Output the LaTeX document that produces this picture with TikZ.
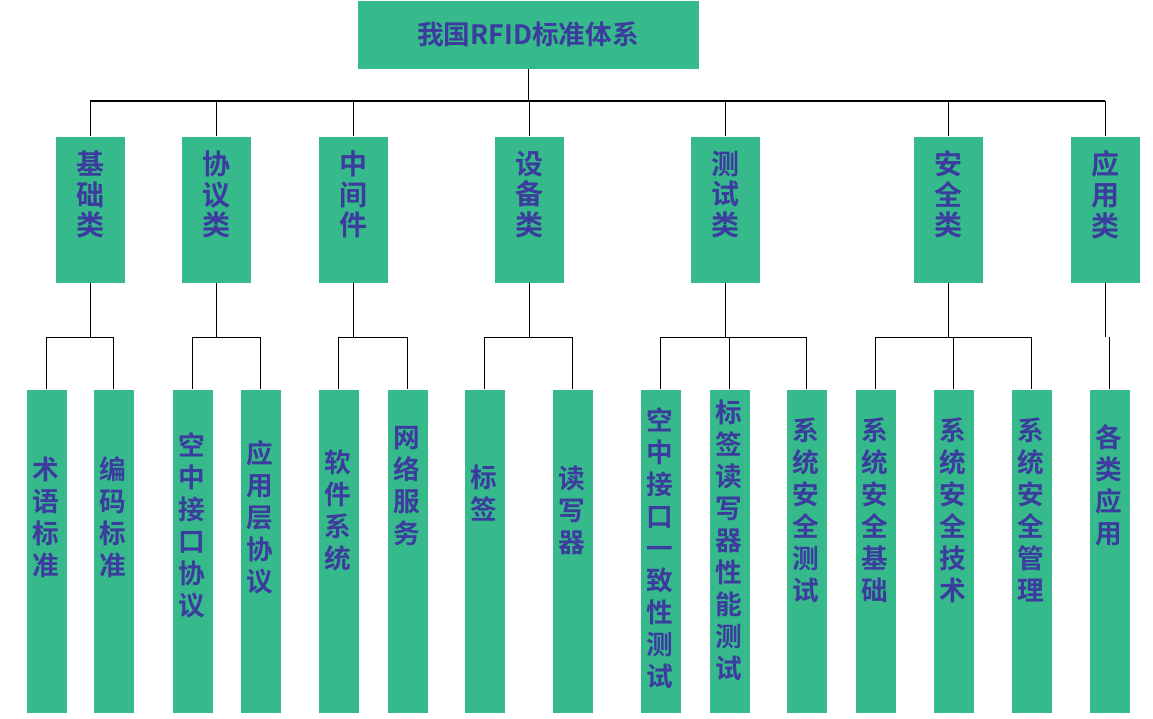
\documentclass[tikz,border=0pt]{standalone}
\usepackage{fontspec}
\setmainfont{Noto Sans CJK SC Bold}
\usetikzlibrary{calc}
\definecolor{boxgreen}{HTML}{36BA8C}
\definecolor{txtblue}{HTML}{3C3C9E}
\tikzset{every picture/.style={line width=0.9pt},
  grbox/.style={draw=none,fill=boxgreen,inner sep=0pt,anchor=north west},
  vtext/.style={text=txtblue,font=\fontsize{20}{24}\selectfont,align=center,inner sep=0pt}}

\begin{document}
\begin{tikzpicture}[x=0.75pt,y=0.75pt,yscale=-1,xscale=1]
	\path[use as bounding box,fill=white] (0,0) rectangle (1153,718);
	
	% top box
	\node [grbox,minimum width=341*0.75pt,minimum height=68*0.75pt] (top) at (357,0) {};
	\node [text=txtblue,font=\fontsize{20}{24}\selectfont] (toplab) at (top.center) {我国RFID标准体系};
	
	% second level
	\foreach \nm/\x/\txt in {jc/55/{基\\础\\类}, xy/181/{协\\议\\类}, zj/318/{中\\间\\件}, sb/494/{设\\备\\类}, cs/690/{测\\试\\类}, aq/913/{安\\全\\类}, yy/1070/{应\\用\\类}}{
		\node [grbox,minimum width=69*0.75pt,minimum height=146*0.75pt] (\nm) at (\x,136) {};
		\node [vtext,anchor=north,font=\fontsize{21}{23}\selectfont] at ($(\nm.north)+(0,14)$) {\txt};
	}
	
	% third level
	\foreach \nm/\x/\txt/\cy in {a1/26/{术\\语\\标\\准}/517, a2/93/{编\\码\\标\\准}/517,
		b1/172/{空\\中\\接\\口\\协\\议}/525, b2/240/{应\\用\\层\\协\\议}/517,
		c1/318/{软\\件\\系\\统}/510, c2/387/{网\\络\\服\\务}/486,
		d1/464/{标\\签}/493, d2/552/{读\\写\\器}/510,
		e1/640/{空\\中\\接\\口\\一\\致\\性\\测\\试}/548, e2/709/{标\\签\\读\\写\\器\\性\\能\\测\\试}/540, e3/786/{系\\统\\安\\全\\测\\试}/510,
		f1/855/{系\\统\\安\\全\\基\\础}/510, f2/933/{系\\统\\安\\全\\技\\术}/510, f3/1011/{系\\统\\安\\全\\管\\理}/510,
		g1/1089/{各\\类\\应\\用}/485}{
		\node [grbox,minimum width=40*0.75pt,minimum height=323*0.75pt] (\nm) at (\x,389) {};
		\node [vtext] at (\x+20,\cy) {\txt};
	}
	
	% connectors
	\coordinate (hl) at (90,101);
	\coordinate (hr) at (1105,101);
	\draw (top.south) -- (top.south|-hl);
	\draw (hl) -- (hr);
	\foreach \nm in {jc,xy,zj,sb,cs,aq,yy}
		\draw (\nm.north|-hl) -- (\nm.north);
	\foreach \p/\l/\r/\cs in {jc/a1/a2/{a1,a2}, xy/b1/b2/{b1,b2}, zj/c1/c2/{c1,c2}, sb/d1/d2/{d1,d2}, cs/e1/e3/{e1,e2,e3}, aq/f1/f3/{f1,f2,f3}, yy/g1/g1/{g1}}{
		\draw (\p.south) -- ($(\p.south)+(0,54)$) coordinate (\p m);
		\draw (\l.north|-\p m) -- (\r.north|-\p m);
		\foreach \c in \cs
			\draw (\c.north|-\p m) -- (\c.north);
	}
\end{tikzpicture}
\end{document}
